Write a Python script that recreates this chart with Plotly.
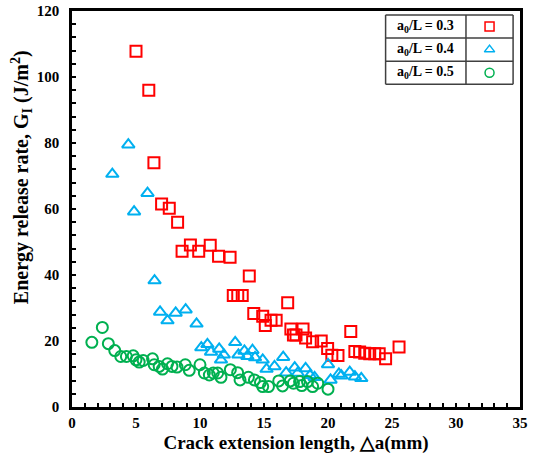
import plotly.graph_objects as go

# ---- data ----
red_x = [5.0, 6.0, 6.4, 7.0, 7.6, 8.25, 8.6, 9.25, 9.9, 10.8, 11.45, 12.35, 12.6, 12.95, 13.3,
         13.85, 14.2, 14.9, 15.1, 15.55, 15.95, 16.85, 17.1, 17.3, 17.5, 18.05, 18.25, 18.8,
         19.47, 19.97, 20.3, 20.78, 21.78, 22.1, 22.47, 22.87, 23.26, 23.65, 24.0, 24.5, 25.55]
red_y = [107.8, 96.0, 74.0, 61.5, 60.2, 56.0, 47.2, 49.1, 47.2, 49.0, 45.7, 45.4, 33.8, 33.8, 33.8,
         39.7, 28.3, 27.5, 24.7, 26.3, 26.3, 31.6, 23.6, 21.8, 21.8, 23.6, 20.9, 19.8,
         20.0, 17.7, 15.7, 15.6, 22.9, 16.8, 16.7, 16.3, 16.1, 16.1, 16.1, 14.6, 18.2]

blue_x = [3.15, 4.4, 4.85, 5.9, 6.45, 6.88, 7.46, 8.1, 8.88, 9.73, 10.1, 10.58, 10.86, 11.5,
          11.64, 11.86, 12.75, 13.0, 13.47, 13.7, 14.1, 14.3, 14.9, 15.2, 15.82, 16.5, 16.73,
          17.4, 17.64, 18.25, 18.6, 18.95, 20.0, 20.2, 20.85, 21.04, 21.7, 22.1, 22.6]
blue_y = [70.6, 79.5, 59.2, 64.8, 38.3, 28.8, 26.2, 28.5, 29.5, 25.2, 18.0, 19.0, 16.7, 17.6,
          14.3, 15.8, 19.6, 15.8, 17.0, 15.4, 17.2, 15.0, 14.3, 11.5, 12.3, 15.1, 10.4,
          11.9, 10.3, 11.7, 9.6, 9.0, 12.9, 8.2, 10.0, 9.5, 10.6, 9.2, 8.7]

green_x = [1.55, 2.37, 2.84, 3.34, 3.81, 4.25, 4.78, 5.0, 5.25, 5.56, 6.29, 6.42, 6.81, 7.07,
           7.46, 7.81, 8.2, 8.85, 9.16, 10.0, 10.34, 10.73, 11.04, 11.38, 11.64, 12.37, 12.94,
           13.13, 13.78, 14.25, 14.72, 14.9, 15.35, 16.15, 16.45, 17.05, 17.3, 17.78, 17.95,
           18.4, 18.8, 19.2, 20.0]
green_y = [19.6, 24.1, 19.2, 17.1, 15.3, 15.3, 15.5, 14.3, 13.6, 14.1, 14.6, 12.8, 12.3, 11.5,
           13.1, 12.3, 12.1, 12.8, 11.1, 12.8, 10.3, 9.7, 10.3, 10.3, 9.0, 11.3, 10.4,
           8.2, 9.0, 8.2, 7.4, 6.2, 6.2, 7.9, 6.4, 7.9, 7.2, 7.7, 6.5,
           7.7, 6.2, 7.2, 5.4]

series_names = ["a<sub>0</sub>/L = 0.3", "a<sub>0</sub>/L = 0.4", "a<sub>0</sub>/L = 0.5"]
x_ticks = [0, 5, 10, 15, 20, 25, 30, 35]
y_ticks = [0, 20, 40, 60, 80, 100, 120]

RED, BLUE, GREEN = "#FF0000", "#00B0F0", "#00B050"
FONT = "Liberation Serif"

fig = go.Figure()
styles = [("square-open", RED, 11), ("triangle-up-open", BLUE, 11), ("circle-open", GREEN, 11)]
for (xs, ys), (sym, col, sz), name in zip([(red_x, red_y), (blue_x, blue_y), (green_x, green_y)],
                                          styles, series_names):
    fig.add_trace(go.Scatter(x=xs, y=ys, mode="markers", name=name, showlegend=False,
                             marker=dict(symbol=sym, size=sz, color=col,
                                         line=dict(color=col, width=2))))

# ---- table-style legend (data coordinates of the fixed axes) ----
tx0, tx1, tx2 = 24.5, 30.78, 34.46
row_edges = [118.8, 111.8, 104.8, 97.8]
lc = "#404040"
for yv in row_edges:
    fig.add_shape(type="line", x0=tx0, x1=tx2, y0=yv, y1=yv, line=dict(color=lc, width=1.5))
for xv in (tx0, tx1, tx2):
    fig.add_shape(type="line", x0=xv, x1=xv, y0=row_edges[0], y1=row_edges[-1],
                  line=dict(color=lc, width=1.5))
for i, ((sym, col, sz), name) in enumerate(zip(styles, series_names)):
    yc = (row_edges[i] + row_edges[i + 1]) / 2
    fig.add_annotation(x=(tx0 + tx1) / 2, y=yc, text="<b>" + name + "</b>", showarrow=False,
                       font=dict(family=FONT, size=14, color="black"))
    fig.add_trace(go.Scatter(x=[(tx1 + tx2) / 2], y=[yc], mode="markers", showlegend=False,
                             hoverinfo="skip", cliponaxis=False,
                             marker=dict(symbol=sym, size=9, color=col,
                                         line=dict(color=col, width=1.5))))

# y-axis title placed like the reference (slightly above the axis centre)
fig.add_annotation(xref="paper", yref="paper", x=-0.112, y=0.58, xanchor="center", yanchor="middle",
                   textangle=-90, showarrow=False,
                   text="<b>Energy release rate, G<sub>I</sub> (J/m<sup>2</sup>)</b>",
                   font=dict(family=FONT, size=20, color="black"))

axis_common = dict(showline=True, linecolor="black", linewidth=2.5, mirror=True,
                   ticks="inside", ticklen=4, tickwidth=1.5, tickcolor="black",
                   showgrid=False, zeroline=False, automargin=False,
                   tickfont=dict(family=FONT, size=15, color="black", weight="bold"))

fig.update_layout(
    width=536, height=458,
    margin=dict(l=72, r=16, t=11, b=51),
    paper_bgcolor="white", plot_bgcolor="white",
    font=dict(family=FONT, color="black"),
    xaxis=dict(range=[0, 35], tickvals=x_ticks,
               minor=dict(dtick=1, ticks="inside", ticklen=4, tickcolor="black", tickwidth=1.5),
               title=dict(text="<b>Crack extension length, △a(mm)</b>",
                          font=dict(family=FONT, size=19, color="black"), standoff=6),
               **axis_common),
    yaxis=dict(range=[0, 120], tickvals=y_ticks, ticklabelstandoff=7,
               minor=dict(dtick=4, ticks="inside", ticklen=4, tickcolor="black", tickwidth=1.5),
               **axis_common),
)

fig.write_html("out.html")
